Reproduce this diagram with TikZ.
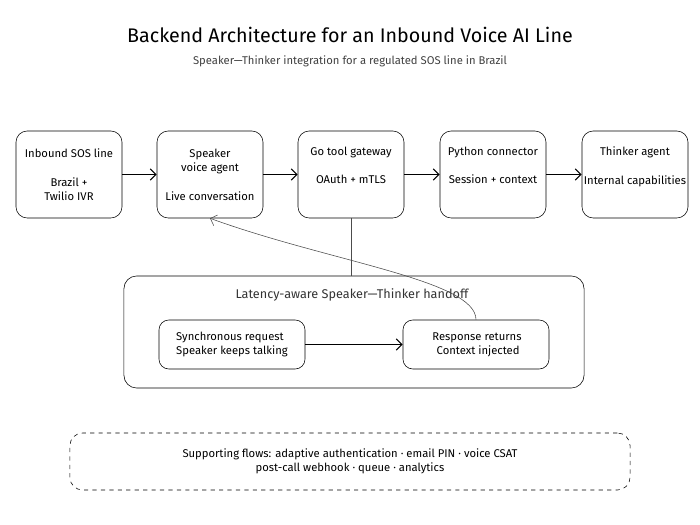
\documentclass[tikz,border=0pt]{standalone}
\usepackage{fontspec}
\setmainfont{Fira Sans}
\usetikzlibrary{arrows.meta,positioning}
\tikzset{
  stage/.style={draw,rounded corners=8pt,align=center,minimum width=2.65cm,minimum height=2.175cm,font=\fontsize{8}{10}\selectfont,inner sep=1pt},
  phase/.style={draw,rounded corners=7pt,align=left,minimum width=3.65cm,minimum height=1.225cm,font=\fontsize{8}{10}\selectfont},
  flow/.style={-{Straight Barb[length=4pt]},thick}
}
\begin{document}
\begin{tikzpicture}[x=0.025cm,y=-0.025cm]
\useasboundingbox (0,0) rectangle (700,525);
\node[font=\fontsize{14}{16}\selectfont] (title) at (350,35) {Backend Architecture for an Inbound Voice AI Line};
\node[font=\fontsize{8}{10}\selectfont,text=black!75] (sub) at (350,61) {Speaker—Thinker integration for a regulated SOS line in Brazil};
\node[stage] (ivr) at (69,174.5) {Inbound SOS line\\[1.3em]Brazil +\\Twilio IVR};
\node[stage] (spk) at (210,174.5) {Speaker\\voice agent\\[1.3em]Live conversation};
\node[stage] (gw) at (351,174.5) {Go tool gateway\\[1.3em]OAuth + mTLS\\\strut};
\node[stage] (py) at (493,174.5) {Python connector\\[1.3em]Session + context\\\strut};
\node[stage] (thk) at (635,174.5) {Thinker agent\\[1.3em]Internal capabilities\\\strut};
\draw[flow] (ivr) -- (spk);
\draw[flow] (spk) -- (gw);
\draw[flow] (gw) -- (py);
\draw[flow] (py) -- (thk);
% handoff
\node[draw,rounded corners=9pt,minimum width=11.5cm,minimum height=2.8cm] (hand) at (354,332) {};
\node[font=\fontsize{9}{11}\selectfont,text=black!80] (handt) at (352,295) {Latency-aware Speaker—Thinker handoff};
\node[phase] (req) at (232,344.5) {Synchronous request\\Speaker keeps talking};
\node[phase] (resp) at (476,344.5) {\,Response returns\\\;\;Context injected};
\draw[flow] (req) -- (resp);
\draw[black!70] (gw) -- (gw |- hand.north);
\draw[-{Straight Barb[length=4pt]},black!70] (resp.north) .. controls (476,280) and (330,262) .. (spk.south);
% support
\node[draw,dashed,rounded corners=9pt,minimum width=14cm,minimum height=1.425cm,align=center,font=\fontsize{8}{10}\selectfont] (sup) at (350,461.5) {Supporting flows: adaptive authentication · email PIN · voice CSAT\\post-call webhook · queue · analytics};
\end{tikzpicture}
\end{document}
